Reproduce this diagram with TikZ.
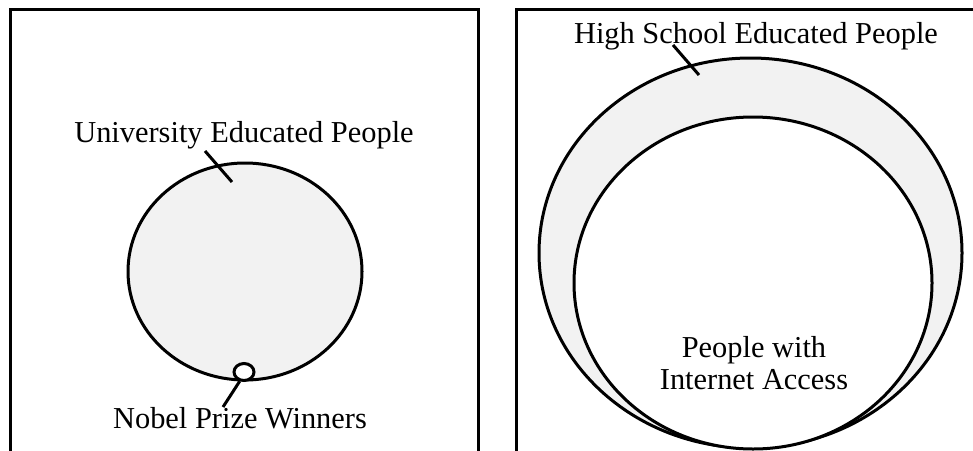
\documentclass[tikz,border=0pt]{standalone}
\usepackage{fontspec}
\setmainfont{Liberation Serif}
\usetikzlibrary{shapes.geometric}

\definecolor{setgray}{HTML}{F2F2F2}

\begin{document}
\begin{tikzpicture}[x=1pt, y=-1pt,
  frame/.style={line width=3pt},
  set/.style={ellipse, draw, line width=3pt, inner sep=0pt},
  leader/.style={line width=3pt},
  lbl/.style={font=\fontsize{30.4}{32}\selectfont, inner sep=0pt}]
\useasboundingbox (0,0) rectangle (973,450);
\clip (0,0) rectangle (973,450);
% left panel
\draw[frame] (10.5,470) -- (10.5,9.7) -- (478.3,9.7) -- (478.3,470);
\node[set, fill=setgray, minimum width=234pt, minimum height=217pt] (uni) at (245,271.5){};
\node[set, fill=white, minimum width=20pt, minimum height=17pt] (nobel) at (244,372){};
\node[lbl, anchor=base] (unilabel) at (244,142){University Educated People};
\node[lbl, anchor=base] (nobellabel) at (240,428){Nobel Prize Winners};
\coordinate (unitop) at (205,151);
\coordinate (unitip) at (232,182);
\coordinate (nobelfoot) at (223,407);
\draw[leader] (unitop) -- (unitip);
\draw[leader] (nobel.-115) -- (nobelfoot);
% right panel
\draw[frame] (516.7,470) -- (516.7,9.7) -- (990,9.7);
\node[set, fill=setgray, minimum width=423pt, minimum height=390pt] (school) at (750.5,253){};
\node[set, fill=white, minimum width=358pt, minimum height=332pt] (internet) at (753,283){};
\node[lbl, anchor=base] (schoollabel) at (756,43){High School Educated People};
\node[lbl, align=center] (internetlabel) at (754,363){People with\\Internet Access};
\coordinate (schooltop) at (673,45);
\coordinate (schooltip) at (699,75);
\draw[leader] (schooltop) -- (schooltip);
\end{tikzpicture}
\end{document}
